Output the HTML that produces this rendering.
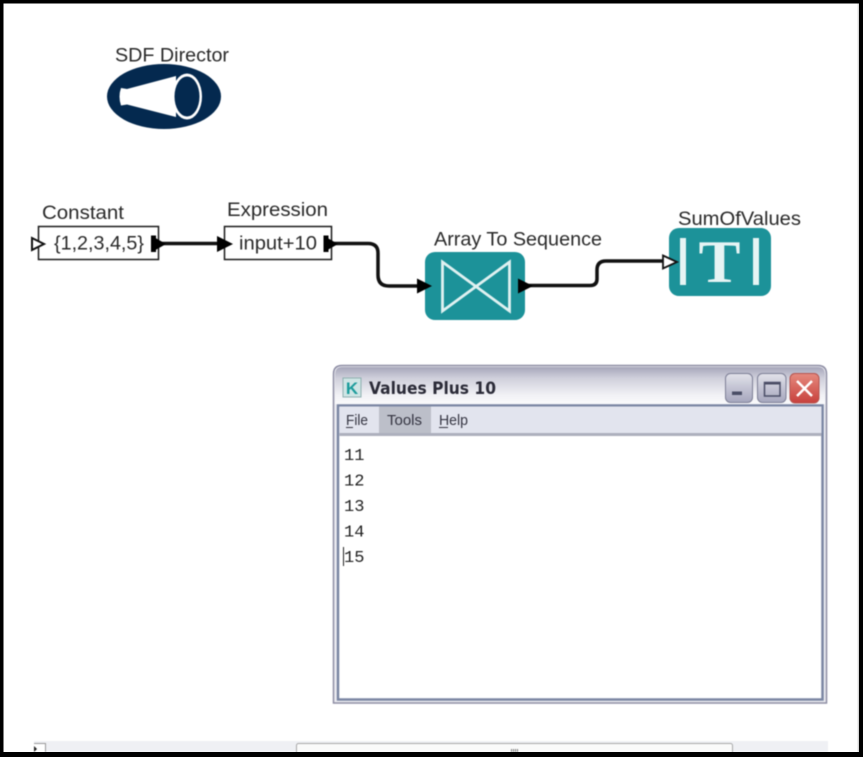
<!DOCTYPE html>
<html><head><meta charset="utf-8"><style>
html,body{margin:0;padding:0;background:#fff}
svg{display:block}
.b{filter:blur(.45px)}
text{font-family:"Liberation Sans",sans-serif;fill:#2a2a2a}
</style></head><body>
<svg width="863" height="757" viewBox="0 0 863 757" xmlns="http://www.w3.org/2000/svg">
<defs>
<linearGradient id="tb" x1="0" y1="0" x2="0" y2="1"><stop offset="0" stop-color="#a6a6ba"/><stop offset=".3" stop-color="#cfcfdb"/><stop offset=".75" stop-color="#f1f1f5"/><stop offset="1" stop-color="#fafafc"/></linearGradient>
<linearGradient id="btn" x1="0" y1="0" x2="0" y2="1"><stop offset="0" stop-color="#e2e2ea"/><stop offset="1" stop-color="#a5a6bd"/></linearGradient>
<linearGradient id="cls" x1="0" y1="0" x2="0" y2="1"><stop offset="0" stop-color="#e58a7e"/><stop offset="1" stop-color="#c8403c"/></linearGradient>
</defs>
<rect width="863" height="757" fill="#fff"/>
<g class="b">
<!-- Director -->
<text x="172" y="61.500" font-size="19.500" text-anchor="middle" textLength="114" lengthAdjust="spacingAndGlyphs">SDF Director</text>
<ellipse cx="164" cy="96.500" rx="57" ry="32.500" fill="#04294f"/>
<path d="M121 88 L127 89 L176 76 L176 117 L127 104.500 L121 105.500 Q118 96.500 121 88Z" fill="#fff"/>
<ellipse cx="187" cy="96.500" rx="15" ry="23" fill="#fff"/>
<ellipse cx="187" cy="96.500" rx="12.500" ry="20" fill="#04294f"/>

<!-- Constant -->
<text x="42" y="219" font-size="19.500" textLength="82" lengthAdjust="spacingAndGlyphs">Constant</text>
<rect x="38.500" y="226.500" width="120" height="33" fill="#fff" stroke="#1a1a1a" stroke-width="1.500"/>
<text x="99" y="249.500" font-size="19" text-anchor="middle" textLength="90" lengthAdjust="spacingAndGlyphs">{1,2,3,4,5}</text>
<path d="M32 238 L44 244 L32 250Z" fill="#fff" stroke="#111" stroke-width="2"/>

<!-- Expression -->
<text x="227" y="216" font-size="19.500" textLength="101" lengthAdjust="spacingAndGlyphs">Expression</text>
<rect x="224.500" y="226.500" width="107" height="33" fill="#fff" stroke="#1a1a1a" stroke-width="1.500"/>
<text x="278" y="249.500" font-size="19" text-anchor="middle" textLength="78" lengthAdjust="spacingAndGlyphs">input+10</text>

<!-- Connectors -->
<path d="M160 243.500 H222" fill="none" stroke="#111" stroke-width="3.500"/>
<path d="M334 243.500 H368 Q378 243.500 378 253 V275 Q378 286 389 286 H420" fill="none" stroke="#111" stroke-width="3.500"/>
<path d="M528 285.500 H590 Q597 285.500 597 279 V270 Q597 261 606 261 H664" fill="none" stroke="#111" stroke-width="3.500"/>

<!-- Array To Sequence -->
<text x="434" y="245.500" font-size="19.500" textLength="168" lengthAdjust="spacingAndGlyphs">Array To Sequence</text>
<rect x="425" y="252" width="100" height="68" rx="10" fill="#1c9299"/>
<path d="M442.500 262 L509.500 311 V262 L442.500 311Z" fill="none" stroke="#dff1f1" stroke-width="2.800" stroke-linejoin="miter"/>

<!-- SumOfValues -->
<text x="678" y="225" font-size="19.500" textLength="123" lengthAdjust="spacingAndGlyphs">SumOfValues</text>
<rect x="669" y="228" width="102" height="68" rx="10" fill="#1c9299"/>
<rect x="680" y="238" width="6" height="47" fill="#e6f4f4"/>
<rect x="753" y="238" width="6" height="47" fill="#e6f4f4"/>
<text x="719.500" y="282" font-size="60" font-weight="bold" text-anchor="middle" textLength="42" lengthAdjust="spacingAndGlyphs" style="font-family:'Liberation Serif',serif;fill:#e6f4f4">T</text>

<!-- Ports -->
<path d="M152 236 L166 244 L152 252Z" fill="#000"/><rect x="151" y="235.500" width="5" height="16.500" fill="#000"/>
<path d="M217 236 L233 244 L217 252Z" fill="#000"/>
<path d="M324 236 L338 244 L324 252Z" fill="#000"/><rect x="323.500" y="235.500" width="5" height="16.500" fill="#000"/>
<path d="M417 278.500 L432 286 L417 293.500Z" fill="#000"/>
<path d="M518 278.500 L533 286 L518 293.500Z" fill="#000"/>
<path d="M663 255.500 L677 262 L663 268.500Z" fill="#fff" stroke="#111" stroke-width="1.800"/>

<!-- Window -->
<path d="M333.500 703 V374 Q333.500 365.500 342 365.500 H818 Q826.500 365.500 826.500 374 V703Z" fill="#ececf1" stroke="#8d8da4" stroke-width="1.500"/>
<path d="M335 404 V375 Q335 367 342 367 H818 Q825 367 825 375 V404Z" fill="url(#tb)"/>
<rect x="338" y="405.500" width="484.500" height="294" fill="#fff" stroke="#7a86a3" stroke-width="2.500"/>
<rect x="339.500" y="406.500" width="482" height="27" fill="#e2e4ee"/>
<rect x="379" y="406.500" width="52" height="27" fill="#bcbfc9"/>
<rect x="339.500" y="433" width="482" height="3" fill="#adb0bd"/>

<!-- Title icon -->
<rect x="343" y="378" width="18" height="19" fill="#cfe5e5" stroke="#8fb0b0"/>
<text x="352" y="394" font-size="17" font-weight="bold" text-anchor="middle" style="fill:#1c9c9c">K</text>
<text x="369" y="394" font-size="16.500" font-weight="bold" textLength="127" lengthAdjust="spacingAndGlyphs" style="font-family:'DejaVu Sans',sans-serif;fill:#2b2b38">Values Plus 10</text>

<!-- Buttons -->
<rect x="725.500" y="373.500" width="27" height="29" rx="5" fill="url(#btn)" stroke="#7d7f96"/>
<rect x="732" y="391.500" width="10" height="3.500" fill="#4a4d66"/>
<rect x="757.500" y="373.500" width="28.500" height="29" rx="5" fill="url(#btn)" stroke="#7d7f96"/>
<rect x="764.500" y="382.500" width="15.500" height="13.500" fill="none" stroke="#4a4d66" stroke-width="1.500"/>
<rect x="764" y="382" width="16.500" height="2.500" fill="#4a4d66"/>
<rect x="790" y="373.500" width="29" height="29.500" rx="5" fill="url(#cls)" stroke="#b5544f"/>
<path d="M797 381 L812 396 M812 381 L797 396" stroke="#fff" stroke-width="2.500"/>

<!-- Menu -->
<text x="346" y="425" font-size="15" textLength="22" lengthAdjust="spacingAndGlyphs" style="fill:#333340">File</text><rect x="346" y="427" width="7" height="1" fill="#333340"/>
<text x="387" y="425" font-size="15" textLength="35" lengthAdjust="spacingAndGlyphs" style="fill:#333340">Tools</text>
<text x="439" y="425" font-size="15" textLength="29" lengthAdjust="spacingAndGlyphs" style="fill:#333340">Help</text><rect x="439" y="427" width="9" height="1" fill="#333340"/>

<!-- Text area -->
<text x="344" y="460" font-size="17" style="font-family:'Liberation Mono',monospace;fill:#222">11</text>
<text x="344" y="485.500" font-size="17" style="font-family:'Liberation Mono',monospace;fill:#222">12</text>
<text x="344" y="511" font-size="17" style="font-family:'Liberation Mono',monospace;fill:#222">13</text>
<text x="344" y="536.500" font-size="17" style="font-family:'Liberation Mono',monospace;fill:#222">14</text>
<text x="344" y="562" font-size="17" style="font-family:'Liberation Mono',monospace;fill:#222">15</text>
<rect x="343" y="547" width="1" height="19" fill="#222"/>

<!-- Scrollbar -->
<rect x="34" y="741" width="794" height="11" fill="#eff0f4"/>
<rect x="296.500" y="743.500" width="436" height="12" rx="2" fill="#fafafa" stroke="#a8a8a8"/>
<rect x="34" y="743" width="12" height="10" fill="#fff"/>
<path d="M34 743.500 H45.500 V752" fill="none" stroke="#999"/>
<path d="M34 746 L37 749 L34 752Z" fill="#222"/>
<path d="M511.500 749 V752 M513.500 749 V752 M515.500 749 V752 M517.500 749 V752" stroke="#777" stroke-width="1"/>
<rect x="858" y="3" width="1" height="749" fill="#b5b5b5"/>
</g>
<!-- Frame -->
<rect x="0" y="0" width="863" height="3.500" fill="#000"/>
<rect x="0" y="752" width="863" height="5" fill="#000"/>
<rect x="0" y="0" width="3.500" height="757" fill="#000"/>
<rect x="859" y="0" width="4" height="757" fill="#000"/>
</svg>
</body></html>
